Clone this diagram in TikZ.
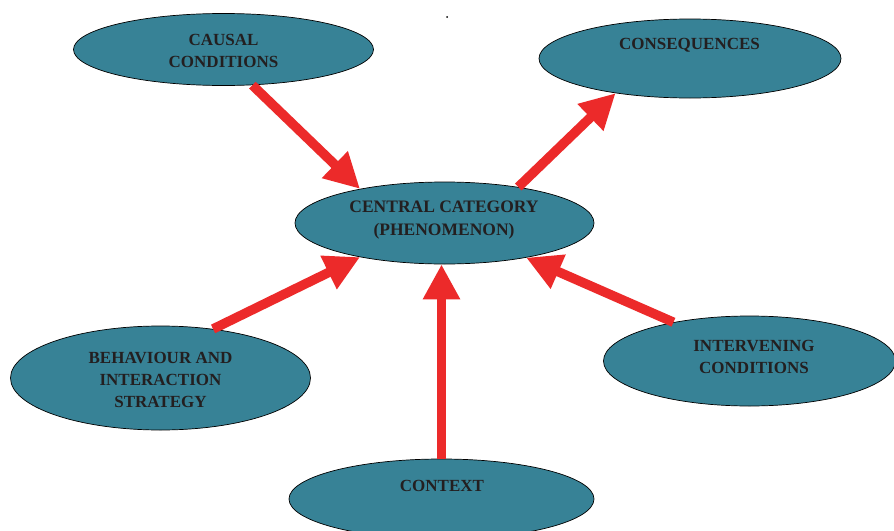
\documentclass[tikz,border=0pt]{standalone}
\usepackage{fontspec}
\setmainfont{Liberation Serif}
\usetikzlibrary{shapes.geometric,arrows.meta}
\definecolor{tealfill}{RGB}{55,130,150}
\definecolor{arrowred}{RGB}{236,42,42}
\definecolor{labelink}{RGB}{35,31,32}
\tikzset{
  blob/.style={ellipse, draw=black, line width=0.7pt, fill=tealfill, inner sep=0pt},
  lbl/.style={align=center, font=\fontsize{17}{22}\selectfont\bfseries, text=labelink, inner sep=0pt},
  flow/.style={draw=arrowred, line width=9.5pt, -{Triangle[length=35pt,width=35pt]}, arrowred}
}
\begin{document}
\begin{tikzpicture}[x=1pt,y=-1pt]
\useasboundingbox (0,0) rectangle (894,530);
\fill[white] (0,0) rectangle (894,530);

% categories
\node[blob, minimum width=300pt, minimum height=72pt] (causal) at (223.5,49.5) {};
\node[blob, minimum width=302pt, minimum height=79pt] (conseq) at (690,58.5) {};
\node[blob, minimum width=299pt, minimum height=82pt] (central) at (444.5,223) {};
\node[blob, minimum width=300pt, minimum height=104pt] (behav) at (160.5,378) {};
\node[blob, minimum width=292pt, minimum height=90pt] (interv) at (749.5,361) {};
\node[blob, minimum width=305pt, minimum height=80pt] (context) at (441.5,499) {};

% labels
\node[lbl] (causal-t) at (223.5,50.5) {CAUSAL\\CONDITIONS};
\node[lbl] (conseq-t) at (689.5,45) {CONSEQUENCES};
\node[lbl, font=\fontsize{17.5}{23}\selectfont\bfseries] (central-t) at (444,220) {CENTRAL CATEGORY\\(PHENOMENON)};
\node[lbl] (behav-t) at (160.5,379.5) {BEHAVIOUR AND\\INTERACTION\\STRATEGY};
\node[lbl] (interv-t) at (754,356.5) {INTERVENING\\CONDITIONS};
\node[lbl] (context-t) at (442,486) {CONTEXT};

% small dot near the top
\fill[black] (447,17) circle (1pt);

% relations
\draw[flow] (causal.-51) -- (central.158);
\draw[flow] (central.26.7) -- (conseq.205.6);
\draw[flow] (behav.43.6) -- (central.202.5);
\draw[flow] (interv.153) -- (central.-23);
\draw[flow] (context.north) -- (context.north |- central.south);
\end{tikzpicture}
\end{document}
